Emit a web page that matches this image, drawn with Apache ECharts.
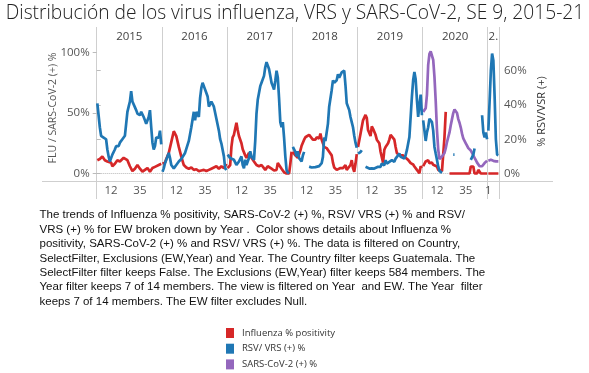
<!DOCTYPE html>
<html>
<head>
<meta charset="utf-8">
<script src="https://cdn.jsdelivr.net/npm/echarts@6/dist/echarts.min.js"></script>
<style>
  html, body { margin: 0; padding: 0; background: #fff; }
  #chart { width: 589px; height: 373px; }
</style>
</head>
<body>
<div id="chart"></div>
<script>
// Panels: one per epidemiological year, 2021 only up to SE 9
const YEARS = ['2015', '2016', '2017', '2018', '2019', '2020', '2021'];
const HEADER_LABELS = ['2015', '2016', '2017', '2018', '2019', '2020', '2.'];
const WEEKS_IN_PANEL = [52, 52, 52, 52, 52, 52, 9];
const WEEK_TICKS = [[12, 35], [12, 35], [12, 35], [12, 35], [12, 35], [12, 35], [1]];
const LEFT_TICKS = [0, 50, 100];
const RIGHT_TICKS = [0, 20, 40, 60];

// Influenza % positivity, [epi week, %]
const flu2015 = [[1,11],[3,12],[5,14],[7,11],[9,10],[10,10],[12,9],[13,6],[15,8],[17,11],[19,10],[22,13],[25,11],[27,6],[29,2],[31,4],[33,7],[35,4],[37,1.5],[39,3],[41,4.5],[43,1.5],[45,4.5],[47,5.5],[50,7],[52,8]];
const flu2016 = [[1,8],[2,7],[3,9],[4,12],[6,17],[8,26],[10,35],[11,36],[12,31],[14,22],[16,14],[18,7],[20,5],[22,4],[24,5],[26,3],[28,3.5],[30,2],[32,2.5],[34,3],[36,2],[38,3],[40,4],[42,5],[44,6],[46,4],[48,6],[50,4.5],[52,8]];
const flu2017 = [[1,4.5],[3,7],[4,22],[5,30],[6,32],[8,42],[9,36],[10,31],[12,25],[13,20],[15,15],[16,13],[18,17],[20,13],[22,10],[24,7],[26,6],[28,7],[31,3],[33,6],[36,4],[38,2.5],[40,3],[41,8.6],[42,10],[44,4],[46,1],[48,0],[50,0],[51,8],[52,18]];
const flu2018 = [[1,18],[3,15],[5,13],[6,14],[7,19],[8,23],[10,28],[11,30],[12,29],[14,32],[15,31],[17,28],[18,29],[19,28],[20,30],[22,29],[23,33],[24,28],[25,25],[26,22],[28,21],[29,21],[30,18],[32,15],[33,9],[34,5],[36,3],[37,2.5],[39,4.5],[40,6],[41,4.5],[43,7],[44,3],[45,4.5],[47,7],[48,11],[49,4.5],[50,1.5],[51,8],[52,16]];
const flu2019 = [[1,22],[3,33],[5,44],[7,48.5],[8,46],[9,36],[11,31],[12,39],[13,37],[15,32],[16,28],[18,25],[19,18],[21,9],[22,19.6],[23,22],[25,25],[26,28],[27,32],[28,31],[30,28],[31,22],[32,17],[34,15],[35,14],[37,15],[38,14],[39,13],[41,11.3],[42,12],[43,8.6],[45,7.5],[46,5.8],[47,5.8],[48,3],[50,0.3],[51,6],[52,4.5]];
const flu2020 = [[1,6],[2,7],[3,10],[5,11],[6,8.6],[8,9],[9,7.2],[10,8],[12,5.8],[13,3],[14,1.5],[16,2],[17,3],[18,30],[19,51],[20,null],[22,0],[38,0],[39,5.8],[41,5.8],[42,0],[44,0],[45,3],[46,3],[47,0],[52,0]];
const flu2021 = [[1,0],[9,0]];

// RSV/ VRS (+) %, [epi week, %]
const rsv2015 = [[1,41],[2,34],[3,27],[4,22],[5,22],[6,21],[8,20],[9,14],[10,10],[11,7],[12,8],[13,11],[15,14],[16,16],[18,16],[19,18],[21,20],[23,22],[24,29],[25,36],[26,39],[27,42],[28,48],[29,42],[30,41],[32,37],[33,35],[34,36],[35,34],[36,36],[38,33],[39,31],[40,29],[42,33],[43,37],[44,27],[45,18],[46,14],[47,16],[48,21],[49,22],[50,21],[51,25],[52,17]];
const rsv2016 = [[1,1],[2,3],[3,6],[5,10],[6,12],[7,9],[8,5],[10,3],[12,5],[14,7],[16,8.5],[19,12],[22,19],[24,27],[26,36],[27,31],[28,36],[30,33],[31,44],[32,50],[33,53],[34,51],[35,50],[36,47],[37,45],[38,39],[39,40],[40,42],[41,41],[42,39],[44,32],[46,25],[47,20],[48,17.5],[50,10],[51,3],[52,2]];
const rsv2017 = [[1,11],[3,9],[4,10],[6,8],[8,5],[10,7],[12,10],[13,5],[14,3],[15,8],[16,5],[18,9],[19,13],[20,10],[22,8],[23,19],[24,35],[25,43],[26,47],[27,51],[28,53],[29,54],[30,57],[31,62],[32,65],[33,64],[34,61],[35,57],[36,53],[37,51],[38,49],[39,54],[40,60],[41,56],[42,44],[43,30],[44,27],[45,30],[46,21],[47,10],[48,2],[49,0.5],[50,0]];
const rsv2018 = [[1,15.5],[3,12.6],[4,10],[5,13],[6,9],[8,7],[9,10.5],[10,12.6],[12,null],[14,4],[16,3.5],[19,3.7],[22,4.3],[24,6],[25,9.7],[26,21],[27,19],[29,29],[30,39],[32,48.6],[33,54.4],[34,53],[36,54.4],[37,58],[38,56],[40,59],[41,58],[42,60],[43,51.5],[44,41],[46,37],[47,33],[48,30],[49,27],[50,22],[51,18],[52,15]];
const rsv2019 = [[1,11.7],[3,12.5],[4,13.6],[6,null],[7,3.9],[10,2.9],[11,1.9],[12,3],[14,2.9],[15,3.9],[17,3.9],[18,4.3],[19,3.9],[20,5.8],[22,4.8],[23,7.8],[24,5.8],[26,6.8],[27,5.8],[28,7.8],[30,6.8],[31,8.7],[32,7.8],[34,11.7],[35,9.7],[36,10.7],[38,8.7],[39,10.7],[40,13.6],[42,21.3],[43,33],[44,44.7],[45,54.4],[46,59.3],[47,55],[48,43],[49,33],[50,40],[51,46],[52,34]];
const rsv2020 = [[1,31],[2,25],[3,19],[4,24],[5,27],[6,32],[7,33],[8,30],[9,25],[10,15.5],[11,11.7],[12,8],[13,4],[14,1.5],[15,1],[16,0.4],[17,null],[25,11],[26,11],[27,null],[39,8],[41,11],[42,14.6],[43,null],[48,34],[49,24],[50,21],[51,24],[52,20]];
const rsv2021 = [[1,25],[2,42],[3,60],[4,70],[5,66],[6,45],[7,20],[8,11],[9,10.7]];

// SARS-CoV-2 (+) %, [epi week, %]
const sars2020 = [[1,51],[3,54],[4,65],[5,90],[6,99],[7,101],[8,100],[9,94],[10,80],[11,60],[12,36],[13,20],[14,12],[15,11.5],[16,14],[17,14],[18,17],[19,21],[20,26],[21,30],[22,34],[23,40],[24,45],[25,50],[26,53],[27,54],[28,50],[29,45],[30,42],[31,38],[32,33],[33,29],[34,27],[35,25],[36,23],[37,21],[38,20],[39,19],[40,17],[41,15.5],[42,13],[43,11],[44,9],[45,7.5],[46,6],[47,5.8],[48,6],[49,7],[50,8.6],[51,10],[52,10.5]];
const sars2021 = [[1,10.5],[2,11],[3,11.3],[4,11],[5,10.5],[6,10],[7,10],[8,10],[9,10]];

const FLU = [flu2015, flu2016, flu2017, flu2018, flu2019, flu2020, flu2021];
const RSV = [rsv2015, rsv2016, rsv2017, rsv2018, rsv2019, rsv2020, rsv2021];
const SARS = [null, null, null, null, null, sars2020, sars2021];

const COLORS = { flu: '#d62728', rsv: '#1f77b4', sars: '#9467bd' };

// Continuous week axis: each panel starts where the previous one ends
const panelStart = [];
let total = 0;
WEEKS_IN_PANEL.forEach(n => { panelStart.push(total); total += n; });
const panelEdges = panelStart.concat([total]);

function joinPanels(perYear) {
  const out = [];
  perYear.forEach((pts, i) => {
    if (!pts) return;
    if (out.length) out.push([panelStart[i], null]); // break the line between panels
    pts.forEach(([w, v]) => out.push([panelStart[i] + w - 0.5, v]));
  });
  return out;
}

const weekLabelAt = new Map();
WEEK_TICKS.forEach((ws, i) => ws.forEach(w => weekLabelAt.set(panelStart[i] + w - 0.5, String(w))));
const headerAt = new Map();
HEADER_LABELS.forEach((lab, i) => headerAt.set(panelStart[i] + WEEKS_IN_PANEL[i] / 2, lab));

// Plot frame (px): panels span from the header row down past the week labels
const FRAME = { left: 96.7, right: 499, top: 27, bottom: 199, zeroY: 173.5 };
const LEFT_PX_PER_UNIT = 1.208;   // px per percentage point, FLU / SARS-CoV-2 axis
const RIGHT_PX_PER_UNIT = 1.713;  // px per percentage point, RSV axis
const leftMin = -(FRAME.bottom - FRAME.zeroY) / LEFT_PX_PER_UNIT;
const leftMax = (FRAME.zeroY - FRAME.top) / LEFT_PX_PER_UNIT;
const rightMin = -(FRAME.bottom - FRAME.zeroY) / RIGHT_PX_PER_UNIT;
const rightMax = (FRAME.zeroY - FRAME.top) / RIGHT_PX_PER_UNIT;

const AXIS_FONT = '"Open Sans", "Noto Sans", sans-serif';
const textGray = '#555';
const ruleGray = '#cfcfcf';

const paragraph = [
  'The trends of Influenza % positivity, SARS-CoV-2 (+) %, RSV/ VRS (+) % and RSV/',
  'VRS (+) % for EW broken down by Year .  Color shows details about Influenza %',
  'positivity, SARS-CoV-2 (+) % and RSV/ VRS (+) %. The data is filtered on Country,',
  'SelectFilter, Exclusions (EW,Year) and Year. The Country filter keeps Guatemala. The',
  'SelectFilter filter keeps False. The Exclusions (EW,Year) filter keeps 584 members. The',
  'Year filter keeps 7 of 14 members. The view is filtered on Year  and EW. The Year  filter',
  'keeps 7 of 14 members. The EW filter excludes Null.'
];

const chart = echarts.init(document.getElementById('chart'), null, { renderer: 'canvas' });

const lineCommon = {
  type: 'line',
  showSymbol: false,
  connectNulls: false,
  animation: false,
  xAxisIndex: 0,
  z: 3,
  emphasis: { disabled: true }
};
const LINE_WIDTH = 2.7;

chart.setOption({
  animation: false,
  backgroundColor: '#fff',
  grid: {
    left: FRAME.left,
    right: 589 - FRAME.right,
    top: FRAME.top,
    bottom: 373 - FRAME.bottom,
    containLabel: false
  },
  xAxis: [
    {
      // week labels under each panel
      type: 'value', min: 0, max: total, position: 'bottom',
      axisLine: { show: false }, axisTick: { show: false }, splitLine: { show: false },
      axisLabel: {
        customValues: Array.from(weekLabelAt.keys()),
        formatter: v => weekLabelAt.get(v) || '',
        inside: true, margin: 2,
        color: textGray, fontSize: 11.5, fontFamily: AXIS_FONT
      }
    },
    {
      // year headers
      type: 'value', min: 0, max: total, position: 'top',
      axisLine: { show: false }, axisTick: { show: false }, splitLine: { show: false },
      axisLabel: {
        customValues: Array.from(headerAt.keys()),
        formatter: v => headerAt.get(v) || '',
        inside: true, margin: 4,
        color: '#444', fontSize: 11.5, fontFamily: AXIS_FONT
      }
    },
    {
      // panel dividers
      type: 'value', min: 0, max: total, position: 'bottom',
      axisLine: { show: false }, axisLabel: { show: false },
      axisTick: { show: false, customValues: panelEdges },
      splitLine: { show: true, lineStyle: { color: ruleGray, width: 1 } }
    }
  ],
  yAxis: [
    {
      type: 'value', min: leftMin, max: leftMax, position: 'left',
      axisLine: { show: false },
      splitLine: { show: false },
      axisTick: { show: true, customValues: LEFT_TICKS, length: 4, lineStyle: { color: '#bbb' } },
      axisLabel: {
        customValues: LEFT_TICKS, formatter: v => v + '%', margin: 7,
        color: textGray, fontSize: 11.5, fontFamily: AXIS_FONT
      }
    },
    {
      type: 'value', min: rightMin, max: rightMax, position: 'right',
      axisLine: { show: false },
      splitLine: { show: false },
      axisTick: { show: true, customValues: RIGHT_TICKS, length: 4, lineStyle: { color: '#bbb' } },
      axisLabel: {
        customValues: RIGHT_TICKS, formatter: v => v + '%', margin: 5,
        color: textGray, fontSize: 11.5, fontFamily: AXIS_FONT
      }
    }
  ],
  legend: {
    orient: 'vertical',
    left: 226, top: 328, padding: 0,
    icon: 'rect', itemWidth: 8, itemHeight: 10, itemGap: 5.7,
    data: ['Influenza % positivity', 'RSV/ VRS (+) %', 'SARS-CoV-2 (+) %'],
    textStyle: { fontSize: 9.5, color: '#333', fontFamily: AXIS_FONT, padding: [0, 0, 0, 3] },
    selectedMode: false
  },
  series: [
    {
      // dotted zero reference, kept beneath the lines
      type: 'line', name: 'zero', data: [], z: 1, silent: true,
      xAxisIndex: 0, yAxisIndex: 0,
      markLine: {
        z: 1, silent: true, symbol: 'none', label: { show: false },
        lineStyle: { type: 'dotted', color: '#b8b8b8', width: 1 },
        data: [{ yAxis: 0 }]
      }
    },
    Object.assign({}, lineCommon, {
      name: 'Influenza % positivity', yAxisIndex: 0,
      color: COLORS.flu, lineStyle: { width: LINE_WIDTH, color: COLORS.flu },
      data: joinPanels(FLU)
    }),
    Object.assign({}, lineCommon, {
      name: 'SARS-CoV-2 (+) %', yAxisIndex: 0,
      color: COLORS.sars, lineStyle: { width: LINE_WIDTH, color: COLORS.sars },
      data: joinPanels(SARS)
    }),
    Object.assign({}, lineCommon, {
      name: 'RSV/ VRS (+) %', yAxisIndex: 1,
      color: COLORS.rsv, lineStyle: { width: LINE_WIDTH, color: COLORS.rsv },
      data: joinPanels(RSV)
    })
  ],
  graphic: [
    {
      type: 'text', x: 295, y: 14,
      style: {
        text: 'Distribución de los virus influenza, VRS y SARS-CoV-2, SE 9, 2015-21',
        align: 'center', verticalAlign: 'middle',
        fill: '#222', fontSize: 19.2, fontWeight: 300, fontFamily: AXIS_FONT
      }
    },
    {
      // axis rule under the panels
      type: 'line', silent: true,
      shape: { x1: 42, y1: 181.5, x2: 553, y2: 181.5 },
      style: { stroke: ruleGray, lineWidth: 1 }
    },
    {
      type: 'text', x: 53, y: 108, rotation: Math.PI / 2,
      style: {
        text: 'FLU / SARS-CoV-2 (+) %', align: 'center', verticalAlign: 'middle',
        fill: textGray, fontSize: 10.5, fontFamily: AXIS_FONT
      }
    },
    {
      type: 'text', x: 541.5, y: 111.5, rotation: Math.PI / 2,
      style: {
        text: '% RSV/VSR (+)', align: 'center', verticalAlign: 'middle',
        fill: '#333', fontSize: 11, fontFamily: AXIS_FONT
      }
    },
    {
      type: 'text', x: 39.5, y: 208,
      style: {
        text: paragraph.join('\n'), lineHeight: 14.4,
        fill: '#111', fontSize: 11.5, fontFamily: '"Liberation Sans", Arial, sans-serif'
      }
    }
  ]
});
</script>
</body>
</html>
